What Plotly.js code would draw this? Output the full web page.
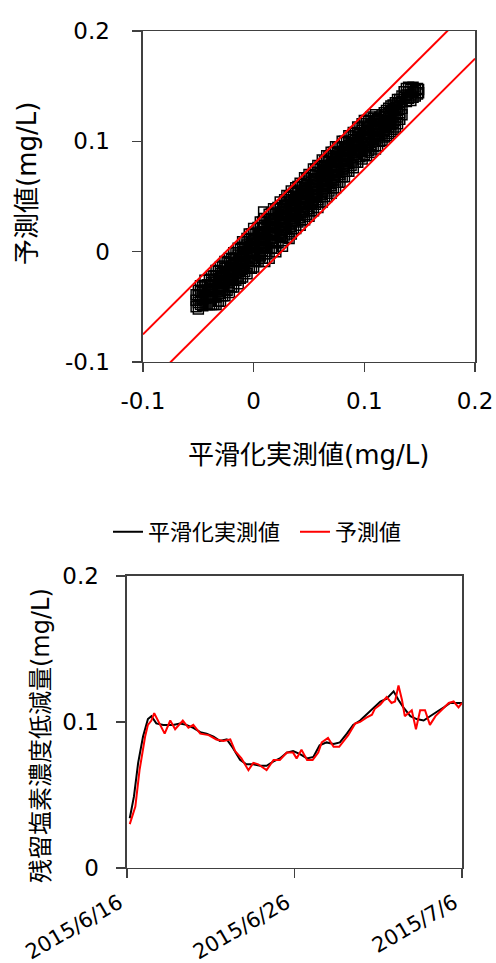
<!DOCTYPE html>
<html>
<head>
<meta charset="utf-8">
<script src="https://cdn.plot.ly/plotly-3.0.1.min.js"></script>
<style>html,body{margin:0;padding:0;background:#fff;}#chart{width:496px;height:963px;}</style>
</head>
<body>
<div id="chart"></div>
<script>
// ---- Scatter: smoothed measured value (x) vs predicted value (y), rows of [measured, [predicted...]]
const scatterRows = [
[-0.052,[-0.050,-0.044,-0.039]],
[-0.050,[-0.052,-0.046,-0.040,-0.035]],
[-0.048,[-0.048,-0.042,-0.036,-0.031]],
[-0.046,[-0.049,-0.043,-0.037,-0.032]],
[-0.044,[-0.048,-0.042,-0.036,-0.031,-0.026]],
[-0.042,[-0.048,-0.041,-0.035,-0.030]],
[-0.040,[-0.048,-0.042,-0.036,-0.030,-0.025]],
[-0.038,[-0.048,-0.041,-0.034,-0.028,-0.022]],
[-0.036,[-0.048,-0.041,-0.034,-0.028,-0.022]],
[-0.034,[-0.048,-0.041,-0.034,-0.028,-0.022,-0.017]],
[-0.032,[-0.045,-0.038,-0.031,-0.024,-0.018]],
[-0.030,[-0.045,-0.038,-0.032,-0.026,-0.020,-0.014]],
[-0.028,[-0.040,-0.033,-0.026,-0.019,-0.013]],
[-0.026,[-0.040,-0.034,-0.027,-0.021,-0.015,-0.009]],
[-0.024,[-0.035,-0.028,-0.021,-0.015,-0.010]],
[-0.022,[-0.037,-0.031,-0.024,-0.017,-0.011,-0.006]],
[-0.020,[-0.032,-0.025,-0.019,-0.013,-0.007]],
[-0.018,[-0.032,-0.025,-0.018,-0.012,-0.006,-0.001]],
[-0.016,[-0.026,-0.019,-0.012,-0.006,-0.001]],
[-0.014,[-0.029,-0.022,-0.015,-0.009,-0.003,0.003]],
[-0.012,[-0.024,-0.017,-0.010,-0.004,0.002]],
[-0.010,[-0.023,-0.016,-0.009,-0.002,0.004,0.009]],
[-0.008,[-0.018,-0.011,-0.004,0.003,0.009]],
[-0.006,[-0.020,-0.013,-0.006,0.000,0.006,0.012]],
[-0.004,[-0.015,-0.008,-0.001,0.005,0.011,0.016]],
[-0.002,[-0.015,-0.008,-0.001,0.005,0.011,0.016]],
[0.000,[-0.014,-0.008,-0.002,0.004,0.010,0.016,0.021]],
[0.002,[-0.009,-0.002,0.005,0.011,0.017]],
[0.004,[-0.009,-0.003,0.004,0.010,0.016,0.022]],
[0.006,[-0.004,0.003,0.010,0.016,0.022,0.027]],
[0.008,[-0.006,0.001,0.008,0.015,0.021,0.027]],
[0.009,[0.036]],
[0.010,[-0.009,-0.002,0.005,0.012,0.018,0.024,0.030]],
[0.012,[-0.002,0.004,0.011,0.017,0.023,0.029]],
[0.014,[-0.006,0.003,0.010,0.017,0.023,0.029,0.034]],
[0.016,[0.003,0.010,0.017,0.023,0.029,0.035]],
[0.018,[0.003,0.009,0.016,0.022,0.028,0.034,0.039]],
[0.020,[0.000,0.008,0.015,0.022,0.028,0.034,0.039]],
[0.022,[0.008,0.015,0.022,0.028,0.034,0.040]],
[0.024,[0.013,0.020,0.027,0.033,0.039,0.045]],
[0.026,[0.005,0.010,0.017,0.024,0.030,0.036,0.042]],
[0.028,[0.015,0.022,0.029,0.035,0.041,0.047]],
[0.030,[0.013,0.020,0.027,0.033,0.039,0.045,0.051]],
[0.032,[0.012,0.018,0.025,0.032,0.038,0.044,0.050]],
[0.034,[0.016,0.023,0.030,0.037,0.043,0.049,0.055]],
[0.036,[0.021,0.028,0.035,0.041,0.047,0.053]],
[0.038,[0.021,0.028,0.035,0.042,0.048,0.054,0.058]],
[0.040,[0.027,0.034,0.041,0.047,0.053,0.059]],
[0.042,[0.024,0.031,0.038,0.044,0.050,0.056,0.062]],
[0.044,[0.029,0.036,0.043,0.049,0.055,0.061]],
[0.046,[0.029,0.036,0.043,0.049,0.055,0.061,0.067]],
[0.048,[0.034,0.041,0.048,0.054,0.060,0.066]],
[0.050,[0.032,0.039,0.046,0.052,0.058,0.064,0.070]],
[0.052,[0.037,0.044,0.051,0.057,0.063,0.069]],
[0.054,[0.037,0.044,0.051,0.057,0.063,0.069,0.075]],
[0.056,[0.043,0.050,0.057,0.063,0.069,0.075]],
[0.058,[0.040,0.047,0.054,0.060,0.066,0.072,0.078]],
[0.060,[0.045,0.052,0.059,0.065,0.071,0.077]],
[0.062,[0.045,0.052,0.059,0.065,0.071,0.077,0.083]],
[0.064,[0.050,0.057,0.064,0.070,0.076,0.082]],
[0.066,[0.050,0.057,0.064,0.070,0.076,0.082,0.087]],
[0.068,[0.055,0.062,0.069,0.075,0.081,0.087]],
[0.070,[0.053,0.060,0.067,0.073,0.079,0.085,0.090]],
[0.072,[0.058,0.065,0.072,0.078,0.084,0.090]],
[0.074,[0.058,0.065,0.072,0.078,0.084,0.090,0.095]],
[0.076,[0.063,0.070,0.077,0.083,0.089,0.095]],
[0.078,[0.063,0.070,0.077,0.083,0.089,0.095]],
[0.080,[0.068,0.075,0.082,0.088,0.094,0.100]],
[0.082,[0.068,0.075,0.082,0.088,0.094,0.100]],
[0.084,[0.073,0.080,0.087,0.093,0.099]],
[0.086,[0.073,0.080,0.087,0.093,0.099,0.105]],
[0.088,[0.078,0.085,0.092,0.098,0.104]],
[0.090,[0.076,0.083,0.090,0.096,0.102,0.108]],
[0.092,[0.081,0.088,0.095,0.101,0.107]],
[0.094,[0.081,0.088,0.095,0.101,0.107,0.113]],
[0.096,[0.086,0.093,0.100,0.106,0.112]],
[0.098,[0.084,0.091,0.098,0.104,0.110,0.116]],
[0.100,[0.088,0.095,0.102,0.108,0.114,0.119]],
[0.102,[0.087,0.094,0.101,0.107,0.113,0.119]],
[0.104,[0.092,0.099,0.106,0.112,0.118]],
[0.106,[0.090,0.097,0.104,0.110,0.116,0.122]],
[0.108,[0.095,0.102,0.109,0.115,0.121]],
[0.110,[0.093,0.100,0.107,0.113,0.119,0.124]],
[0.112,[0.096,0.103,0.110,0.116,0.120]],
[0.114,[0.100,0.106,0.112,0.118,0.122]],
[0.116,[0.101,0.107,0.113,0.119,0.124]],
[0.118,[0.104,0.110,0.116,0.122,0.126]],
[0.120,[0.105,0.111,0.117,0.123,0.128]],
[0.122,[0.107,0.113,0.119,0.125,0.130]],
[0.124,[0.109,0.115,0.121,0.127,0.132]],
[0.126,[0.111,0.117,0.123,0.129,0.133]],
[0.128,[0.113,0.119,0.125,0.131,0.135]],
[0.130,[0.116,0.122,0.128,0.134,0.138]],
[0.132,[0.120,0.126,0.132,0.138]],
[0.134,[0.124,0.130,0.136,0.141]],
[0.136,[0.140,0.145]],
[0.138,[0.136,0.142,0.148]],
[0.140,[0.139,0.145,0.149]],
[0.142,[0.137,0.142,0.147]],
[0.144,[0.140,0.145,0.149]],
[0.146,[0.141,0.146]],
[0.148,[0.143,0.148]],
[0.149,[0.144,0.147]]
];

// ±0.025 mg/L limit lines
const limitX = [-0.1, 0.2];
const upperLimitY = [-0.075, 0.225];
const lowerLimitY = [-0.125, 0.175];

// ---- Time series
const measuredTimes = ['2015-06-16 04:00','2015-06-16 10:00','2015-06-16 16:00','2015-06-16 23:00','2015-06-17 06:00','2015-06-17 11:00','2015-06-17 18:00','2015-06-18 04:00','2015-06-18 18:00','2015-06-19 04:00','2015-06-19 13:00','2015-06-19 23:00','2015-06-20 09:00','2015-06-20 18:00','2015-06-21 04:00','2015-06-21 13:00','2015-06-21 23:00','2015-06-22 08:00','2015-06-22 18:00','2015-06-23 03:00','2015-06-23 13:00','2015-06-23 23:00','2015-06-24 08:00','2015-06-24 18:00','2015-06-25 03:00','2015-06-25 13:00','2015-06-25 22:00','2015-06-26 08:00','2015-06-26 18:00','2015-06-27 03:00','2015-06-27 12:00','2015-06-27 22:00','2015-06-28 08:00','2015-06-28 17:00','2015-06-29 03:00','2015-06-29 12:00','2015-06-29 22:00','2015-06-30 07:00','2015-06-30 17:00','2015-07-01 03:00','2015-07-01 12:00','2015-07-01 22:00','2015-07-02 05:00','2015-07-02 12:00','2015-07-02 22:00','2015-07-03 07:00','2015-07-03 17:00','2015-07-04 02:00','2015-07-04 12:00','2015-07-04 22:00','2015-07-05 07:00','2015-07-05 17:00','2015-07-06 00:00'];
const measuredValues = [0.034,0.049,0.072,0.090,0.102,0.104,0.099,0.098,0.098,0.099,0.098,0.096,0.093,0.092,0.090,0.087,0.088,0.082,0.074,0.071,0.071,0.070,0.070,0.073,0.075,0.079,0.080,0.078,0.075,0.076,0.084,0.086,0.085,0.086,0.092,0.098,0.101,0.105,0.109,0.114,0.116,0.121,0.115,0.110,0.104,0.102,0.101,0.104,0.107,0.110,0.113,0.113,0.113];

const predictedTimes = ['2015-06-16 04:00','2015-06-16 12:00','2015-06-16 18:00','2015-06-17 02:00','2015-06-17 06:00','2015-06-17 11:00','2015-06-17 15:00','2015-06-17 21:00','2015-06-18 06:00','2015-06-18 14:00','2015-06-18 21:00','2015-06-19 08:00','2015-06-19 16:00','2015-06-19 23:00','2015-06-20 09:00','2015-06-20 21:00','2015-06-21 08:00','2015-06-21 18:00','2015-06-22 04:00','2015-06-22 11:00','2015-06-22 20:00','2015-06-23 06:00','2015-06-23 13:00','2015-06-23 20:00','2015-06-24 08:00','2015-06-24 18:00','2015-06-25 03:00','2015-06-25 13:00','2015-06-25 22:00','2015-06-26 03:00','2015-06-26 10:00','2015-06-26 18:00','2015-06-27 02:00','2015-06-27 10:00','2015-06-27 15:00','2015-06-28 00:00','2015-06-28 08:00','2015-06-28 16:00','2015-06-28 22:00','2015-06-29 05:00','2015-06-29 15:00','2015-06-29 22:00','2015-06-30 07:00','2015-06-30 15:00','2015-06-30 19:00','2015-07-01 03:00','2015-07-01 12:00','2015-07-01 19:00','2015-07-02 00:00','2015-07-02 05:00','2015-07-02 10:00','2015-07-02 14:00','2015-07-02 19:00','2015-07-03 00:00','2015-07-03 06:00','2015-07-03 12:00','2015-07-03 19:00','2015-07-04 02:00','2015-07-04 10:00','2015-07-04 19:00','2015-07-05 05:00','2015-07-05 12:00','2015-07-05 19:00','2015-07-06 00:00'];
const predictedValues = [0.030,0.042,0.067,0.090,0.098,0.101,0.106,0.100,0.092,0.101,0.095,0.101,0.096,0.098,0.092,0.091,0.088,0.087,0.088,0.080,0.075,0.067,0.072,0.071,0.067,0.074,0.074,0.079,0.079,0.075,0.081,0.074,0.074,0.079,0.086,0.089,0.083,0.083,0.087,0.091,0.099,0.100,0.103,0.105,0.109,0.112,0.117,0.113,0.114,0.125,0.115,0.104,0.106,0.108,0.095,0.108,0.108,0.098,0.104,0.108,0.113,0.114,0.110,0.113];

const scatterTickVals = [-0.1, 0, 0.1, 0.2];
const scatterTickText = ['-0.1', '0', '0.1', '0.2'];
const seriesTickVals = [0, 0.1, 0.2];
const seriesTickText = ['0', '0.1', '0.2'];
const dateTickVals = ['2015-06-16', '2015-06-26', '2015-07-06'];
const dateTickText = ['2015/6/16', '2015/6/26', '2015/7/6'];

const measuredName = '平滑化実測値';
const predictedName = '予測値';

// build scatter arrays from rows
const scatterMeasured = [];
const scatterPredicted = [];
scatterRows.forEach(function (r) {
  r[1].forEach(function (p) { scatterMeasured.push(r[0]); scatterPredicted.push(p); });
});

const FONT = 'DejaVu Sans, "Noto Sans CJK JP", sans-serif';
const AX = '#404040';

const traces = [
  {type:'scatter', mode:'markers', x:scatterMeasured, y:scatterPredicted, xaxis:'x', yaxis:'y', showlegend:false,
   marker:{symbol:'square-open', size:10, color:'#000', line:{width:1.5, color:'#000'}}, hoverinfo:'x+y'},
  {type:'scatter', mode:'lines', x:limitX, y:upperLimitY, xaxis:'x', yaxis:'y', showlegend:false,
   line:{color:'#ff0000', width:2}},
  {type:'scatter', mode:'lines', x:limitX, y:lowerLimitY, xaxis:'x', yaxis:'y', showlegend:false,
   line:{color:'#ff0000', width:2}},
  {type:'scatter', mode:'lines', name:measuredName, x:measuredTimes, y:measuredValues, xaxis:'x2', yaxis:'y2',
   line:{color:'#000000', width:2}},
  {type:'scatter', mode:'lines', name:predictedName, x:predictedTimes, y:predictedValues, xaxis:'x2', yaxis:'y2',
   line:{color:'#ff0000', width:2}}
];

function axisBase() {
  return {showline:true, linecolor:AX, linewidth:1.5, mirror:true, ticks:'outside', ticklen:9,
    tickwidth:1.5, tickcolor:AX, showgrid:false, zeroline:false, tickfont:{family:FONT, size:23, color:'#000'}};
}

const layout = {
  width:496, height:963,
  margin:{l:0, r:0, t:0, b:0},
  paper_bgcolor:'#ffffff', plot_bgcolor:'#ffffff',
  font:{family:FONT, size:22, color:'#000'},
  showlegend:true,
  legend:{orientation:'h', x:0.2177, xanchor:'left', y:0.4476, yanchor:'middle',
    font:{family:FONT, size:22, color:'#000'}, bgcolor:'rgba(0,0,0,0)', itemwidth:30,
    entrywidth:142, entrywidthmode:'pixels'},
  xaxis:Object.assign(axisBase(), {domain:[0.2883, 0.9577], anchor:'y', range:[-0.1, 0.2],
    tickmode:'array', tickvals:scatterTickVals, ticktext:scatterTickText, ticklabelstandoff:9}),
  yaxis:Object.assign(axisBase(), {domain:[0.6241, 0.9678], anchor:'x', range:[-0.1, 0.2],
    tickmode:'array', tickvals:scatterTickVals, ticktext:scatterTickText, ticklabelstandoff:18}),
  xaxis2:Object.assign(axisBase(), {domain:[0.2560, 0.9315], anchor:'y2', type:'date',
    range:['2015-06-16', '2015-07-06'], tickmode:'array', tickvals:dateTickVals, ticktext:dateTickText,
    tickangle:-30, ticklabelstandoff:4, ticklabelshift:-8, tickfont:{family:FONT, size:21, color:'#000'}}),
  yaxis2:Object.assign(axisBase(), {domain:[0.0987, 0.4019], anchor:'x2', range:[0, 0.2],
    tickmode:'array', tickvals:seriesTickVals, ticktext:seriesTickText, ticklabelstandoff:13}),
  annotations:[
    {text:'予測値(mg/L)', xref:'paper', yref:'paper', x:0.0544, y:0.81, textangle:-90, showarrow:false,
     xanchor:'center', yanchor:'middle', font:{family:FONT, size:26, color:'#000'}},
    {text:'平滑化実測値(mg/L)', xref:'paper', yref:'paper', x:0.621, y:0.5275, showarrow:false,
     xanchor:'center', yanchor:'middle', font:{family:FONT, size:26, color:'#000'}},
    {text:'残留塩素濃度低減量(mg/L)', xref:'paper', yref:'paper', x:0.0827, y:0.2357, textangle:-90, showarrow:false,
     xanchor:'center', yanchor:'middle', font:{family:FONT, size:24, color:'#000'}}
  ]
};

Plotly.newPlot('chart', traces, layout, {staticPlot:true, displayModeBar:false});
</script>
</body>
</html>
